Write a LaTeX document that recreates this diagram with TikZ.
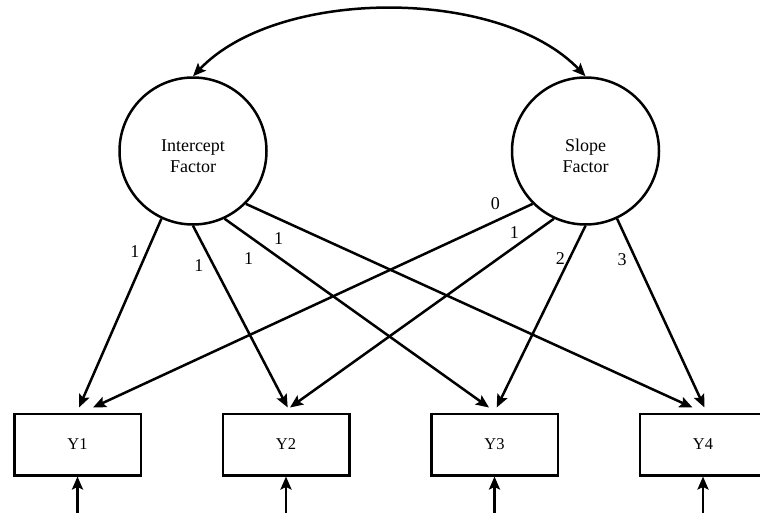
\documentclass[tikz,border=0pt]{standalone}
\usepackage{fontspec}
\setmainfont{Liberation Serif}
\usetikzlibrary{arrows.meta,positioning}

\newcommand{\topgap}{\rule{0pt}{23pt}}

\begin{document}
\begin{tikzpicture}[x=1pt,y=-1pt,line width=2.5pt,
		>={Stealth[length=13pt,width=11pt,inset=2.5pt]},
		factor/.style={shape=circle,draw,minimum size=147pt,inner sep=0pt,align=center,font=\fontsize{18}{21}\selectfont},
		obs/.style={shape=rectangle,draw,minimum width=126.5pt,minimum height=61.5pt,font=\fontsize{16.5}{19}\selectfont},
		load/.style={inner sep=0pt,yshift=-3pt,font=\fontsize{18}{21}\selectfont}]
		\useasboundingbox (0,0) rectangle (760,512);
		\begin{scope}
			% latent factors
			\node(I) at (193,151) [factor] {\topgap Intercept\\Factor};
			\node(S) [right=243pt of I,factor] {\topgap Slope\\Factor};
			% observed measures
			\node(Y1) at (77.5,444.5) [obs] {Y1};
			\node(Y2) [right=79.5pt of Y1,obs] {Y2};
			\node(Y3) [right=79.5pt of Y2,obs] {Y3};
			\node(Y4) [right=79.5pt of Y3,obs] {Y4};
			% error terms
			\coordinate[below=37pt of Y1.south] (e1);
			\coordinate[below=37pt of Y2.south] (e2);
			\coordinate[below=37pt of Y3.south] (e3);
			\coordinate[below=37pt of Y4.south] (e4);
			\draw[<->] (I.north) .. controls (278,-13) and (500,-13) .. (S.north);
			\path[->]
				(I.245) edge node [load,pos=0.16,left=7.5pt] {1} ([xshift=1.5pt,yshift=5pt]Y1.north)
				(I.270) edge node [load,pos=0.2,left=7.4pt] {1} ([xshift=1.7pt,yshift=5pt]Y2.north)
				(I.295) edge node [load,pos=0.116,below left=7.4pt and 0.8pt] {1} ([xshift=-5.5pt,yshift=5pt]Y3.north)
				(I.315) edge node [load,pos=0.082,below left=7.7pt and -2pt] {1} ([xshift=-10.5pt,yshift=5pt]Y4.north)
				(S.225) edge node [load,pos=0.066,above left=9pt and 2.6pt] {0} ([xshift=15.5pt,yshift=5pt]Y1.north)
				(S.245) edge node [load,pos=0.113,above left=3.8pt and 4pt] {1} ([xshift=4pt,yshift=5pt]Y2.north)
				(S.270) edge node [load,pos=0.197,left=1.9pt,yshift=6pt] {2} ([xshift=2.2pt,yshift=5pt]Y3.north)
				(S.295) edge node [load,pos=0.2,left=6.7pt] {3} ([xshift=1.5pt,yshift=5pt]Y4.north)
				(e1) edge (Y1)
				(e2) edge (Y2)
				(e3) edge (Y3)
				(e4) edge (Y4);
		\end{scope}
	\end{tikzpicture}
\end{document}
